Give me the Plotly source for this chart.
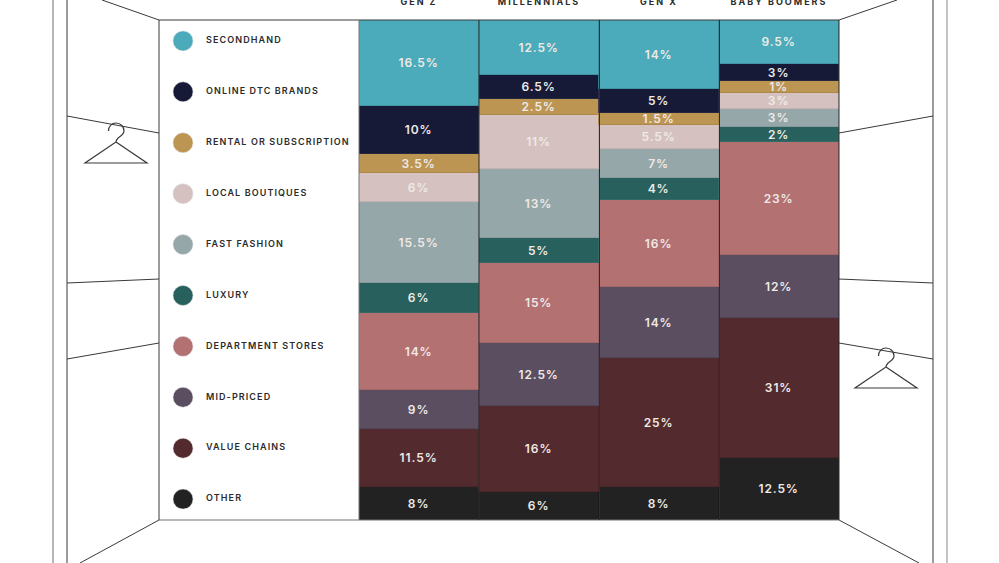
import plotly.graph_objects as go

W, H = 999, 563

generations = ['GEN Z', 'MILLENNIALS', 'GEN X', 'BABY BOOMERS']
categories = ['SECONDHAND', 'ONLINE DTC BRANDS', 'RENTAL OR SUBSCRIPTION', 'LOCAL BOUTIQUES', 'FAST FASHION',
              'LUXURY', 'DEPARTMENT STORES', 'MID-PRICED', 'VALUE CHAINS', 'OTHER']
colors = ['#4BABBA', '#161A36', '#BD9552', '#D5C1BF', '#96A7AA',
          '#27605C', '#B37172', '#5A4E60', '#532A2D', '#232223']
edge_colors = ['#3E8F9B', '#2A2C42', '#A8854A', '#C2AEAC', '#85969A',
               '#3A6B68', '#A06466', '#4E4454', '#472427', '#1C1B1C']

# segment heights as drawn in the picture (they don't quite follow the printed labels)
secondhand = [17.2, 11.0, 13.8, 8.8]
online_dtc = [9.6, 4.8, 4.8, 3.4]
rental = [3.8, 3.2, 2.4, 2.4]
boutiques = [5.8, 10.8, 4.8, 3.2]
fast_fashion = [16.2, 13.8, 5.8, 3.6]
luxury = [6.0, 5.0, 4.4, 3.0]
department = [15.4, 16.0, 17.4, 22.6]
mid_priced = [7.8, 12.6, 14.2, 12.6]
value_chains = [11.6, 17.2, 25.8, 28.0]
other = [6.6, 5.6, 6.6, 12.4]

# printed labels
secondhand_labels = ['16.5%', '12.5%', '14%', '9.5%']
online_dtc_labels = ['10%', '6.5%', '5%', '3%']
rental_labels = ['3.5%', '2.5%', '1.5%', '1%']
boutiques_labels = ['6%', '11%', '5.5%', '3%']
fast_fashion_labels = ['15.5%', '13%', '7%', '3%']
luxury_labels = ['6%', '5%', '4%', '2%']
department_labels = ['14%', '15%', '16%', '23%']
mid_priced_labels = ['9%', '12.5%', '14%', '12%']
value_chains_labels = ['11.5%', '16%', '25%', '31%']
other_labels = ['8%', '6%', '8%', '12.5%']

series = [secondhand, online_dtc, rental, boutiques, fast_fashion,
          luxury, department, mid_priced, value_chains, other]
labels = [secondhand_labels, online_dtc_labels, rental_labels, boutiques_labels, fast_fashion_labels,
          luxury_labels, department_labels, mid_priced_labels, value_chains_labels, other_labels]

LINE = '#3a3a3a'
FONT = 'Inter'


def px(x):
    return x / W


def py(y):
    return 1 - y / H


def line(x0, y0, x1, y1, color=LINE, width=1.0):
    return dict(type='line', xref='paper', yref='paper', layer='above',
                x0=px(x0), y0=py(y0), x1=px(x1), y1=py(y1),
                line=dict(color=color, width=width))


def hanger(cx, top):
    # hook plus triangle, drawn relative to the top of the hook
    def p(dx, dy):
        return '%.5f,%.5f' % (px(cx + dx), py(top + dy))
    path = ('M' + p(-7.5, 8) + ' C' + p(-7.5, 3) + ' ' + p(-4, 0) + ' ' + p(0, 0)
            + ' C' + p(5, 0) + ' ' + p(8, 4) + ' ' + p(8, 8)
            + ' C' + p(8, 13) + ' ' + p(0, 14) + ' ' + p(0, 19)
            + ' L' + p(-31, 40) + ' L' + p(31, 40) + ' L' + p(0, 19))
    return dict(type='path', xref='paper', yref='paper', layer='above', path=path,
                line=dict(color=LINE, width=1.2))


fig = go.Figure()

for name, vals, text, col, edge in reversed(list(zip(categories, series, labels, colors, edge_colors))):
    fig.add_trace(go.Bar(
        x=generations, y=vals, name=name, text=text,
        textposition='inside', insidetextanchor='middle', textangle=0, constraintext='none',
        insidetextfont=dict(family=FONT, size=12, color='#EFEAE6', weight=600),
        marker=dict(color=col, line=dict(color=edge, width=0.8)),
        showlegend=False, hoverinfo='skip',
    ))

# legend panel, built as its own small axis: dots at 0, names at 1
fig.add_trace(go.Scatter(
    x=[0] * len(categories), y=categories, mode='markers', xaxis='x2', yaxis='y2',
    marker=dict(size=20, color=colors, line=dict(color='#dddddd', width=0.5)),
    showlegend=False, hoverinfo='skip',
))
fig.add_trace(go.Scatter(
    x=[1] * len(categories), y=categories, mode='text', xaxis='x2', yaxis='y2',
    text=categories, textposition='middle right',
    textfont=dict(family=FONT, size=9, color='#2b2b2b', weight=600),
    showlegend=False, hoverinfo='skip',
))

shapes = [
    # outer walls
    line(53, 0, 53, H, '#6e6e6e'), line(67, 0, 67, H),
    line(933, 0, 933, H), line(947, 0, 947, H, '#8a8a8a'),
    # corners
    line(102, 0, 159, 20), line(80, H, 159, 520),
    line(839, 20, 897, 0), line(839, 520, 919, H),
    # shelves
    line(67, 116, 159, 133), line(67, 283, 159, 279), line(67, 359, 159, 343),
    line(839, 133, 933, 116), line(839, 279, 933, 283), line(839, 343, 933, 359),
    # panel frame and column rules
    line(159, 20, 839, 20), line(159, 520, 839, 520, '#777777', 1.2), line(159, 20, 159, 520),
    line(359, 20, 359, 520, '#777777'),
    line(479, 20, 479, 520, '#2e2e2e'), line(599.5, 20, 599.5, 520, '#2e2e2e'),
    line(719.5, 20, 719.5, 520, '#2e2e2e'), line(839, 20, 839, 520, '#2e2e2e'),
    hanger(116, 123), hanger(886, 348),
]

fig.update_layout(
    width=W, height=H, barmode='stack', bargap=0,
    margin=dict(l=0, r=0, t=0, b=0, autoexpand=False),
    paper_bgcolor='white', plot_bgcolor='white',
    shapes=shapes,
    xaxis=dict(domain=[px(359), px(839)], side='top', type='category', showgrid=False, zeroline=False,
               showline=False, ticks='', ticklabelstandoff=12, automargin=False,
               tickfont=dict(family=FONT, size=9, color='#2b2b2b', weight=700)),
    yaxis=dict(domain=[py(520), py(20)], range=[0, 100], visible=False),
    xaxis2=dict(domain=[px(159), px(359)], range=[-24 / 23, 176 / 23], anchor='y2', visible=False),
    yaxis2=dict(domain=[py(520), py(20)], anchor='x2', type='category', categoryorder='array',
                categoryarray=categories, range=[9.41, -0.41], visible=False),
)

css = ("var s=document.createElement('style');"
       "s.textContent='html,body{margin:0;padding:0;overflow:hidden}"
       ".bartext{letter-spacing:0.9px}"
       ".textpoint text{letter-spacing:1.1px}"
       ".xtick text{letter-spacing:2px}';"
       "document.head.appendChild(s);")

fig.write_html("out.html", post_script=css, config=dict(displayModeBar=False))
